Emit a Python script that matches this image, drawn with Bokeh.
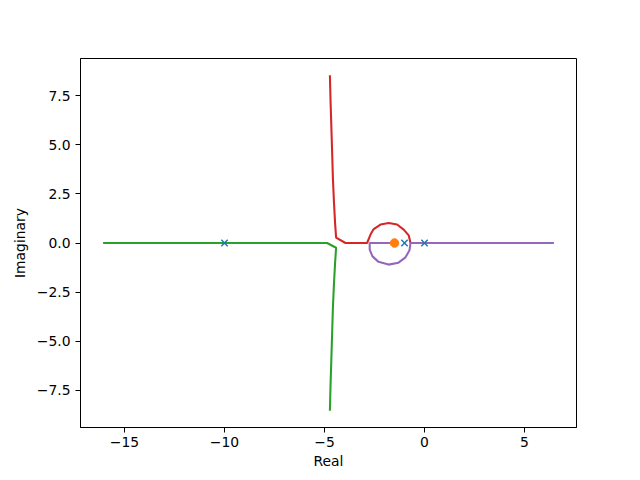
from bokeh.plotting import figure
from bokeh.models import Range1d, FixedTicker
from bokeh.embed import file_html
from bokeh.resources import INLINE

# Poles (x markers) and zero (o marker)
pole_re = [0.0, -1.0, -10.0]
pole_im = [0.0, 0.0, 0.0]
zero_re = [-1.5]
zero_im = [0.0]

# Branch 1 (green)
green_re = [-16.07, -10.0, -4.87, -4.42, -4.47, -4.53, -4.58, -4.62, -4.66, -4.70, -4.73]
green_im = [0.0, 0.0, 0.0, -0.24, -1.0, -2.14, -3.3, -4.68, -6.0, -7.3, -8.54]

# Branch 2 (red)
red_re = [-4.73, -4.70, -4.66, -4.62, -4.58, -4.53, -4.47, -4.42, -3.95, -2.87,
          -2.70, -2.54, -2.20, -1.79, -1.37, -1.04, -0.79, -0.70]
red_im = [8.54, 7.3, 6.0, 4.68, 3.3, 2.14, 1.0, 0.27, 0.0, 0.0,
          0.43, 0.71, 0.94, 1.02, 0.94, 0.68, 0.39, 0.0]

# Branch 3 (purple)
purple_re = [6.47, 0.0, -0.70, -0.75, -0.95, -1.3, -1.8, -2.3, -2.6, -2.74, -2.74, -1.5]
purple_im = [0.0, 0.0, 0.0, -0.37, -0.73, -1.0, -1.1, -0.96, -0.68, -0.34, 0.0, 0.0]

x_ticks = [-15, -10, -5, 0, 5]
y_ticks = [-7.5, -5.0, -2.5, 0.0, 2.5, 5.0, 7.5]

FONT = "DejaVu Sans"
FS = "13.9px"

p = figure(width=632, height=472, output_backend="svg", toolbar_location=None,
           x_range=Range1d(-17.2, 7.6), y_range=Range1d(-9.39, 9.39),
           min_border_left=80, min_border_right=56, min_border_top=58, min_border_bottom=45)

p.xgrid.visible = False
p.ygrid.visible = False
p.outline_line_color = "black"
p.outline_line_width = 1
p.background_fill_color = "white"
p.border_fill_color = "white"

p.xaxis.ticker = FixedTicker(ticks=x_ticks)
p.xaxis.major_label_overrides = {t: str(t).replace("-", "\u2212") for t in x_ticks}
p.yaxis.ticker = FixedTicker(ticks=y_ticks)
p.yaxis.major_label_overrides = {t: ("%.1f" % t).replace("-", "\u2212") for t in y_ticks}

for ax in (p.xaxis, p.yaxis):
    ax.minor_tick_line_color = None
    ax.major_tick_in = 0
    ax.major_tick_out = 5
    ax.major_label_standoff = 5
    ax.major_label_text_font = FONT
    ax.major_label_text_font_size = FS
    ax.major_label_text_color = "black"
    ax.axis_label_text_font = FONT
    ax.axis_label_text_font_size = FS
    ax.axis_label_text_font_style = "normal"
    ax.axis_label_text_color = "black"
    ax.axis_line_color = "black"
    ax.major_tick_line_color = "black"

p.xaxis.axis_label = "Real"
p.yaxis.axis_label = "Imaginary"
p.xaxis.major_label_standoff = 4
p.xaxis.axis_label_standoff = 3
p.yaxis.axis_label_standoff = 6

LW = 2.08
p.line(green_re, green_im, line_color="#2ca02c", line_width=LW)
p.line(red_re, red_im, line_color="#d62728", line_width=LW)
p.line(purple_re, purple_im, line_color="#9467bd", line_width=LW)

p.scatter(pole_re, pole_im, marker="x", size=9, line_color="#1f77b4", line_width=1.5)
p.scatter(zero_re, zero_im, marker="circle", size=8.5, fill_color="#ff7f0e", line_color="#ff7f0e")

open("out.html", "w").write(file_html(p, INLINE))
